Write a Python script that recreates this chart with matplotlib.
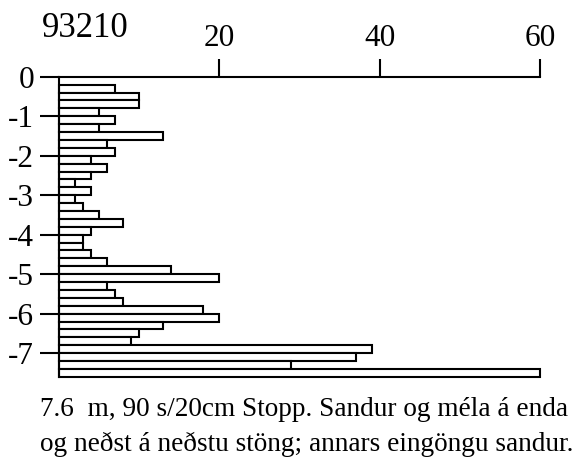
import matplotlib
matplotlib.use("Agg")
import matplotlib.pyplot as plt

# Weight sounding 93210: half-turns per 20 cm, from 0.2 m down to 7.6 m
station = "93210"
step = 0.2
start_depth = 0.2
turns = [7, 10, 10, 5, 7, 5, 13, 6, 7, 4,
         6, 4, 2, 4, 2, 3, 5, 8, 4, 3,
         3, 4, 6, 14, 20, 6, 7, 8, 18, 20,
         13, 10, 9, 39, 37, 29, 60]
x_ticks = [20, 40, 60]
y_ticks = [0, -1, -2, -3, -4, -5, -6, -7]
y_labels = ["0", "-1", "-2", "-3", "-4", "-5", "-6", "-7"]
caption = ["7.6  m, 90 s/20cm Stopp. Sandur og méla á enda",
           "og neðst á neðstu stöng; annars eingöngu sandur."]
end_depth = 7.6

plt.rcParams['font.family'] = ['Liberation Serif', 'DejaVu Serif']

W, H = 583, 459
fig = plt.figure(figsize=(W / 100, H / 100), dpi=100)

# axes placed in pixels: x 0..60 -> 59..540, depth 0..7.6 -> 76.7..377
x0, x1 = 59, 540
y0 = 76.7
ppm = 39.5
ax = fig.add_axes([x0 / W, 1 - (y0 + end_depth * ppm) / H,
                   (x1 - x0) / W, end_depth * ppm / H])
ax.set_xlim(0, 60)
ax.set_ylim(-end_depth, 0)

lw = 1.5
centers = [-(start_depth + step * k + step / 2) for k in range(len(turns))]
ax.barh(centers, turns, height=step, left=0, color="white",
        edgecolor="black", linewidth=lw, clip_on=False, zorder=2)

for side in ["right", "bottom"]:
    ax.spines[side].set_visible(False)
ax.spines["top"].set_linewidth(lw)
ax.spines["left"].set_linewidth(lw)
ax.spines["left"].set_bounds(-end_depth, 0)
ax.patch.set_visible(False)

ax.xaxis.tick_top()
ax.set_xticks(x_ticks)
ax.tick_params(axis="x", direction="out", length=13, width=lw,
               pad=4, labelsize=22.5)
ax.set_yticks(y_ticks)
ax.set_yticklabels(y_labels)
ax.tick_params(axis="y", direction="out", length=14, width=lw,
               pad=4, labelsize=22.5)

fig.text(42 / W, 1 - 37 / H, station, fontsize=25, va="baseline", ha="left")

fig.text(40 / W, 1 - 416 / H, caption[0], fontsize=19.6, va="baseline", ha="left")
fig.text(40 / W, 1 - 451 / H, caption[1], fontsize=19.6, va="baseline", ha="left")

fig.savefig("out.png", dpi=100)
